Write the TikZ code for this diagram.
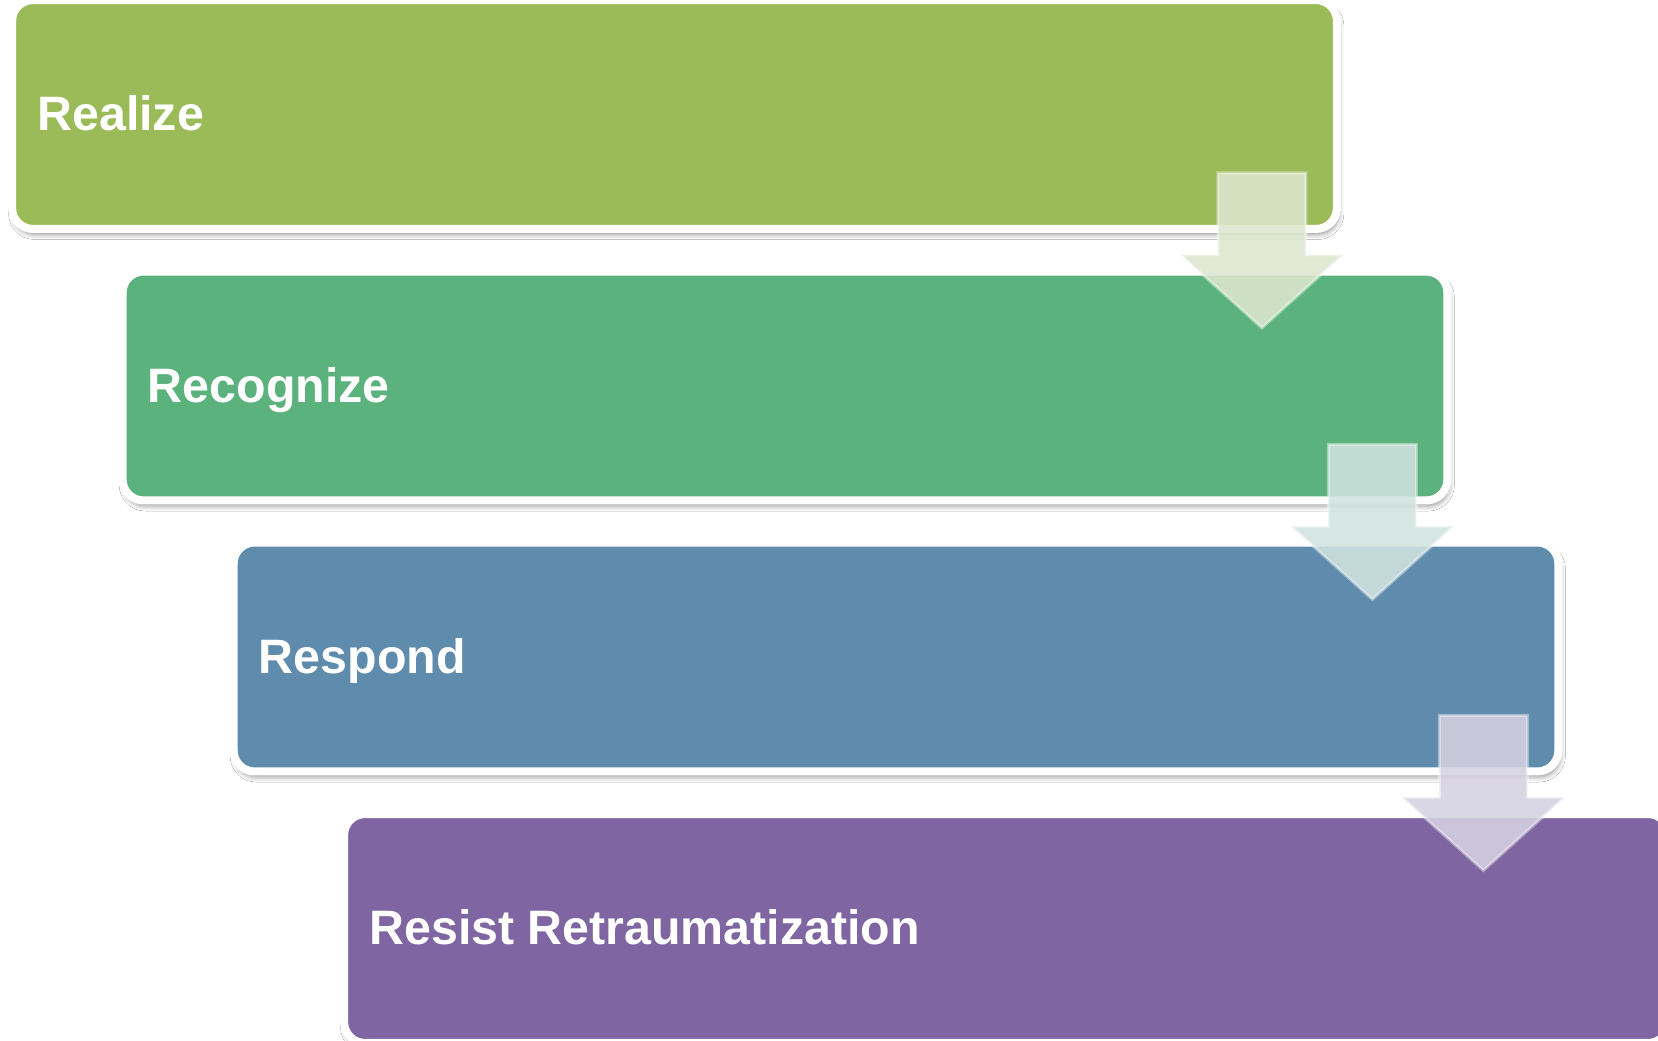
\documentclass[tikz,border=0pt]{standalone}
\usepackage{fontspec}
\setmainfont{Liberation Sans}
\usetikzlibrary{calc,shadows.blur}

\definecolor{stepA}{HTML}{9BBB59}
\definecolor{stepB}{HTML}{5BB27C}
\definecolor{stepC}{HTML}{5F8BAD}
\definecolor{stepD}{HTML}{7F65A1}
\definecolor{arrA}{HTML}{DDE7CF}
\definecolor{arrB}{HTML}{D0E3E0}
\definecolor{arrC}{HTML}{D6D2E2}

\tikzset{
  x=0.02cm, y=-0.02cm,
  stagebox/.style={rectangle, rounded corners=0.42cm, fill=#1, draw=white,
    line width=0.16cm, minimum width=26.5cm, minimum height=4.58cm,
    outer sep=0pt, inner sep=0pt,
    blur shadow={shadow xshift=1pt, shadow yshift=-3pt,
      shadow blur radius=3pt, shadow opacity=45}},
  stagetext/.style={anchor=base west, text=white, inner sep=0pt,
    font=\fontsize{27.5}{30}\selectfont\bfseries},
  flowarrow/.pic={\path[pic actions] (-44,0) -- (44,0) -- (44,82) -- (81,82)
    -- (0,155) -- (-81,82) -- (-44,82) -- cycle;},
  arrowfill/.style={fill=#1, fill opacity=0.88, draw=white, draw opacity=0.4,
    line width=0.06cm, line join=miter}
}

\begin{document}
\begin{tikzpicture}
  \clip (0,0) rectangle (1658,1041);
  \fill[white] (0,0) rectangle (1658,1041);

  % the four stages, stepping down to the right
  \node[stagebox=stepA] (b1) at (674.5,114.5) {};
  \node[stagebox=stepB] (b2) at (785,386) {};
  \node[stagebox=stepC] (b3) at (896,657) {};
  \node[stagebox=stepD] (b4) at (1006.5,928.5) {};

  \node[stagetext] (t1) at ($(b1.west)+(25,16)$) {Realize};
  \node[stagetext] (t2) at ($(b2.west)+(25,16)$) {Recognize};
  \node[stagetext] (t3) at ($(b3.west)+(25,16)$) {Respond};
  \node[stagetext] (t4) at ($(b4.west)+(25,16)$) {Resist Retraumatization};

  % down arrows linking each stage to the next
  \pic[arrowfill=arrA] at ($(b1.south east)+(-75,-56)$) {flowarrow};
  \pic[arrowfill=arrB] at ($(b2.south east)+(-75,-56)$) {flowarrow};
  \pic[arrowfill=arrC] at ($(b3.south east)+(-75,-56)$) {flowarrow};
\end{tikzpicture}
\end{document}
